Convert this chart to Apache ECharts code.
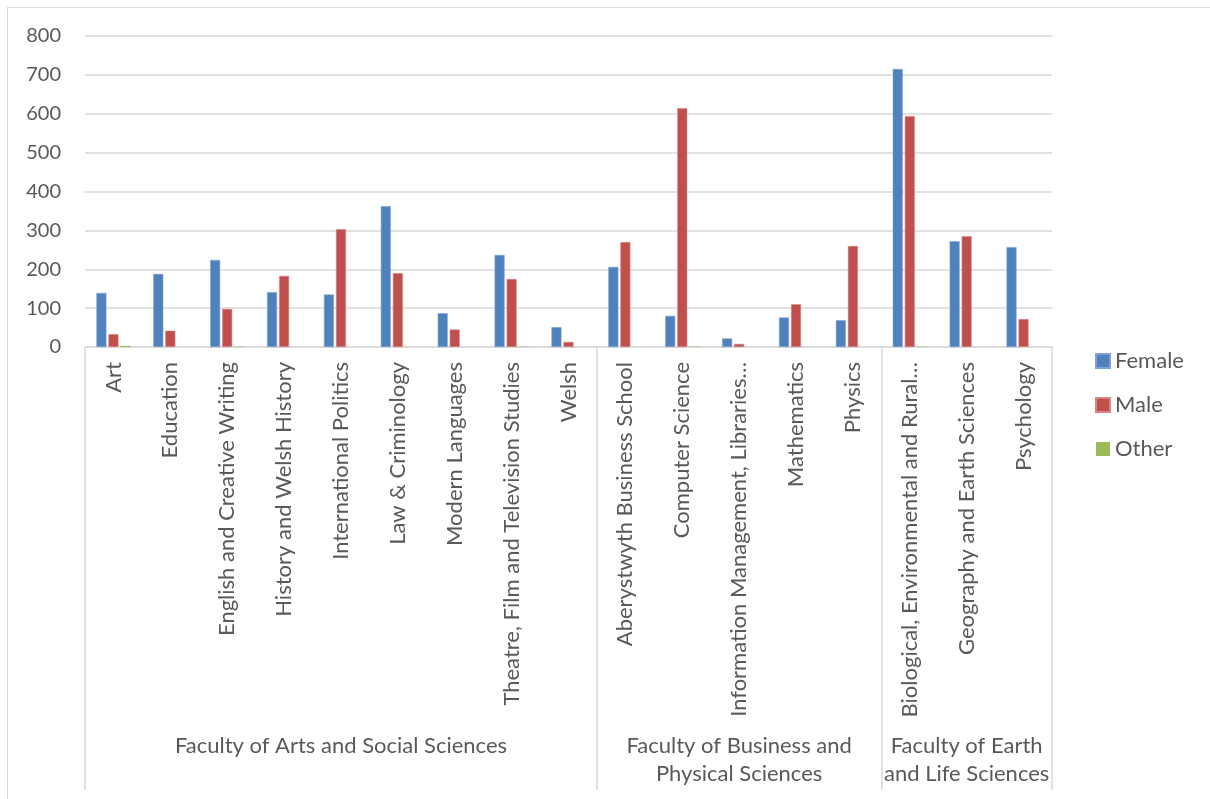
<!DOCTYPE html>
<html lang="en">
<head>
<meta charset="UTF-8">
<title>Students by department and gender</title>
<style>
  body { margin: 0; background: #fff; }
  #frame { position: absolute; left: 7px; top: 7px; width: 1220px; height: 820px; border: 1px solid #d9d9d9; }
  #chart { position: absolute; left: 0; top: 0; width: 1210px; height: 799px; }
</style>
</head>
<body>
<div id="frame"></div>
<div id="chart"></div>
<script src="https://cdn.jsdelivr.net/npm/echarts@6/dist/echarts.min.js"></script>
<script>
const categories = ['Art', 'Education', 'English and Creative Writing', 'History and Welsh History',
  'International Politics', 'Law & Criminology', 'Modern Languages', 'Theatre, Film and Television Studies',
  'Welsh', 'Aberystwyth Business School', 'Computer Science', 'Information Management, Libraries…',
  'Mathematics', 'Physics', 'Biological, Environmental and Rural…', 'Geography and Earth Sciences', 'Psychology'];
const ARTS = 'Faculty of Arts and Social Sciences';
const BUS = 'Faculty of Business and\nPhysical Sciences';
const EARTH = 'Faculty of Earth\nand Life Sciences';
const faculty = [ARTS, ARTS, ARTS, ARTS, ARTS, ARTS, ARTS, ARTS, ARTS, BUS, BUS, BUS, BUS, BUS, EARTH, EARTH, EARTH];
const female = [139, 188, 224, 141, 135, 362, 87, 237, 51, 206, 80, 22, 76, 69, 715, 272, 257];
const male = [33, 42, 98, 183, 303, 190, 45, 175, 13, 270, 614, 8, 110, 260, 594, 285, 72];
const other = [3, 0, 1, 0, 0, 0, 0, 1, 0, 0, 1, 0, 0, 0, 1, 0, 0];
const yTicks = [0, 100, 200, 300, 400, 500, 600, 700, 800];

// group starts and middles for the faculty level
const groupStart = faculty.map((f, i) => i === 0 || faculty[i - 1] !== f);
const groupMid = faculty.map((f, i) => {
  const first = faculty.indexOf(f), last = faculty.lastIndexOf(f);
  return i === Math.floor((first + last) / 2);
});

const font = 'Lato, "Open Sans", sans-serif';
const txt = '#595959';
const grey = '#d9d9d9';

let myChart = echarts.init(document.getElementById('chart'));
myChart.setOption({
  animation: false,
  textStyle: { fontFamily: font },
  grid: { left: 85, right: 158, top: 36, bottom: 452 },
  legend: {
    orient: 'vertical',
    left: 1090,
    top: 345,
    itemWidth: 14,
    itemHeight: 14,
    itemGap: 22,
    icon: 'rect',
    textStyle: { fontSize: 22, color: txt, fontFamily: font },
    data: ['Female', 'Male', 'Other']
  },
  xAxis: [{
    type: 'category',
    data: categories,
    axisLine: { lineStyle: { color: grey, width: 1.5 } },
    axisTick: { show: false },
    axisLabel: { rotate: 90, margin: 15, interval: 0, fontSize: 22, color: txt, fontFamily: font }
  }, {
    type: 'category',
    position: 'bottom',
    data: faculty,
    axisLine: { show: false },
    axisTick: {
      show: true,
      length: 443,
      interval: (i) => groupStart[i],
      lineStyle: { color: grey, width: 1.5 }
    },
    axisLabel: {
      interval: (i) => groupMid[i],
      margin: 385,
      fontSize: 22,
      lineHeight: 28,
      color: txt,
      fontFamily: font
    }
  }],
  yAxis: {
    type: 'value',
    min: 0,
    max: yTicks[yTicks.length - 1],
    interval: yTicks[1] - yTicks[0],
    axisLine: { show: false },
    axisTick: { show: false },
    splitLine: { lineStyle: { color: grey, width: 1.5 } },
    axisLabel: { margin: 24, fontSize: 20, color: txt, fontFamily: font }
  },
  series: [{
    name: 'Female',
    type: 'bar',
    data: female,
    barGap: '20%',
    barCategoryGap: '40%',
    itemStyle: { color: '#4f81bd', borderColor: '#7ea3d2', borderWidth: 0.6 }
  }, {
    name: 'Male',
    type: 'bar',
    data: male,
    itemStyle: { color: '#c0504d', borderColor: '#d98583', borderWidth: 0.6 }
  }, {
    name: 'Other',
    type: 'bar',
    data: other,
    itemStyle: { color: '#9bbb59', borderWidth: 0 }
  }]
});
window.addEventListener('resize', () => {
  myChart.resize();
});
</script>
</body>
</html>
